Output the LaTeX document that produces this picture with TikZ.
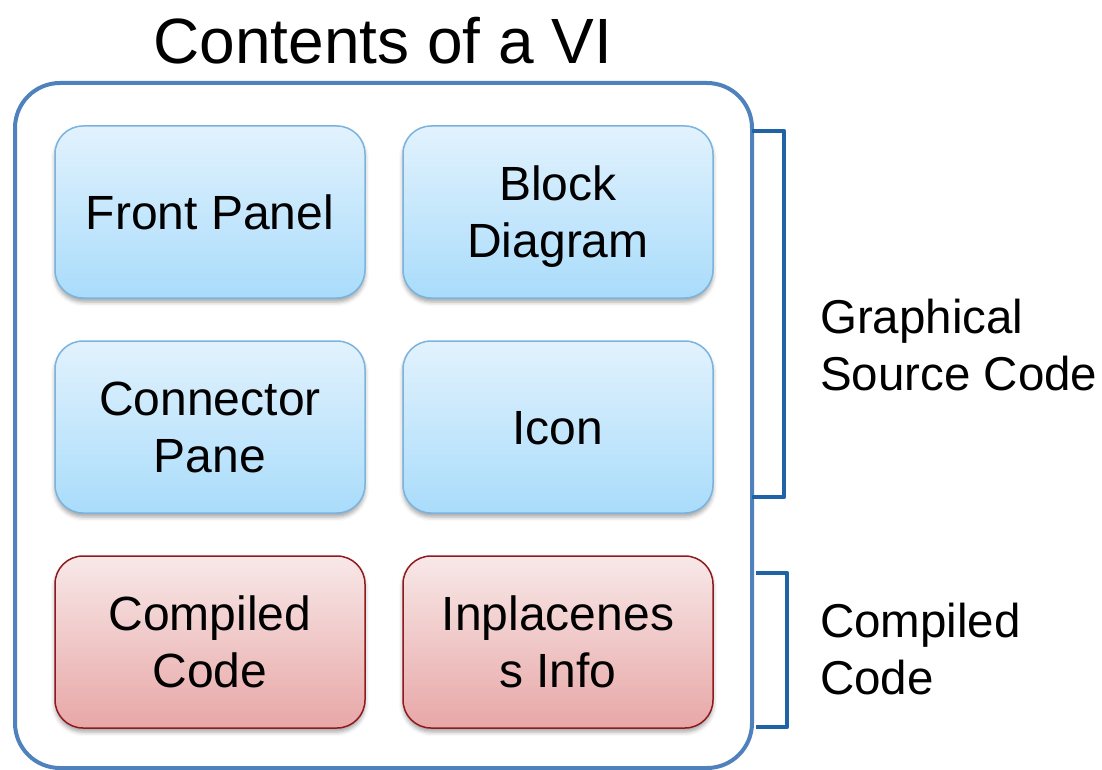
\documentclass[tikz,border=0pt]{standalone}
\usepackage{fontspec}
\setmainfont{Liberation Sans}
\usetikzlibrary{shadows.blur}
\definecolor{frameblue}{HTML}{4F81BD}
\definecolor{bracketblue}{HTML}{1F62A5}
\definecolor{srcedge}{HTML}{7AB3DE}
\definecolor{srctop}{HTML}{E2F2FD}
\definecolor{srcbot}{HTML}{A9DCFB}
\definecolor{cmpedge}{HTML}{8E1A1E}
\definecolor{cmptop}{HTML}{F8E8E8}
\definecolor{cmpbot}{HTML}{E8A7A7}
% centred lines, set a little lower than the box's geometric centre
\newcommand{\lines}[1]{\raisebox{-6pt}[\height][\depth]{\begin{tabular}{@{}c@{}}#1\end{tabular}}}
\tikzset{
  part/.style={rounded corners=28pt, minimum width=310pt, minimum height=172pt,
    align=center, line width=1.5pt, inner sep=0pt,
    font=\fontsize{48}{57}\selectfont,
    blur shadow={shadow xshift=0pt, shadow yshift=-4pt, shadow blur radius=4pt, shadow opacity=35}},
  srcpart/.style={part, draw=srcedge, top color=srctop, bottom color=srcbot},
  cmppart/.style={part, draw=cmpedge, top color=cmptop, bottom color=cmpbot},
  brace/.style={draw=bracketblue, line width=4.5pt, line join=round},
  sidelabel/.style={anchor=west, align=left, inner sep=0pt, font=\fontsize{47.5}{57}\selectfont}
}
\begin{document}
\begin{tikzpicture}[x=1pt, y=-1pt]
\useasboundingbox (0,0) rectangle (1102,770);
% title
\node (title) at (383,41) {\fontsize{64}{70}\selectfont Contents of a VI};
% outer container
\draw[frameblue, line width=4pt, rounded corners=45pt] (15,83) rectangle (752,768);
% source parts
\node[srcpart] (fp) at (210,212) {\lines{Front Panel}};
\node[srcpart] (bd) at (558,212) {\lines{Block\\Diagram}};
\node[srcpart] (cp) at (210,427) {\lines{Connector\\Pane}};
\node[srcpart] (ic) at (558,427) {\lines{Icon}};
% compiled parts
\node[cmppart] (cc) at (210,642) {\lines{Compiled\\Code}};
\node[cmppart] (ip) at (558,642) {\lines{Inplacenes\\s Info}};
% brackets
\coordinate (b1a) at (752,131);
\coordinate (b1b) at (752,497);
\draw[brace] (b1a) -- ++(32,0) |- (b1b);
\coordinate (b2a) at (756,573);
\coordinate (b2b) at (756,727);
\draw[brace] (b2a) -- ++(31,0) |- (b2b);
% side labels
\node[sidelabel] (gsc) at (820,345) {Graphical\\Source Code};
\node[sidelabel] (ccl) at (820,649) {Compiled\\Code};
\end{tikzpicture}
\end{document}
